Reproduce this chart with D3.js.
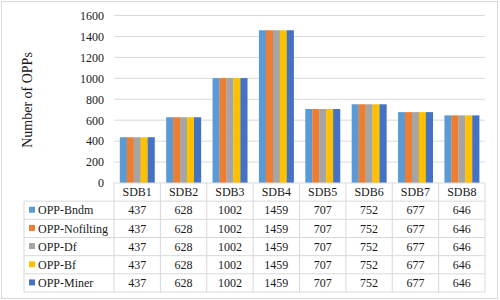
<!DOCTYPE html>
<html><head><meta charset="utf-8">
<script src="https://cdn.jsdelivr.net/npm/d3@7"></script>
<style>body{margin:0;background:#fff}svg{display:block}</style>
</head><body>
<svg id="c" width="500" height="300"></svg>
<script>
const categories = ["SDB1","SDB2","SDB3","SDB4","SDB5","SDB6","SDB7","SDB8"];
const seriesNames = ["OPP-Bndm","OPP-Nofilting","OPP-Df","OPP-Bf","OPP-Miner"];
const bndm      = [437,628,1002,1459,707,752,677,646];
const nofilting = [437,628,1002,1459,707,752,677,646];
const df        = [437,628,1002,1459,707,752,677,646];
const bf        = [437,628,1002,1459,707,752,677,646];
const miner     = [437,628,1002,1459,707,752,677,646];
const yTicks = [0,200,400,600,800,1000,1200,1400,1600];
const colors = ["#5B9BD5","#ED7D31","#A5A5A5","#FFC000","#4472C4"];
const series = [bndm,nofilting,df,bf,miner];

const FONT = "'Liberation Serif', 'Times New Roman', Tinos, 'DejaVu Serif', serif";
const TXT = "#1a1a1a";
const svg = d3.select("#c").attr("font-family", FONT);
const grid = "#d9d9d9";
svg.append("rect").attr("x",1.5).attr("y",1.5).attr("width",496).attr("height",297)
  .attr("fill","none").attr("stroke",grid);

const L=114, R=485, T=15.5, B=183;
const x0 = d3.scaleBand().domain(categories).range([L,R]).padding(0);
const cw = x0.bandwidth();
const x1 = d3.scaleBand().domain(seriesNames).range([cw*0.125, cw*0.875]).padding(0);
const y = d3.scaleLinear().domain([0,1600]).range([B,T]);

svg.append("g").selectAll("line").data(yTicks.filter(d=>d>0)).join("line")
  .attr("x1",L).attr("x2",R).attr("y1",d=>y(d)).attr("y2",d=>y(d))
  .attr("stroke",grid).attr("stroke-width",1);

const yAxis = d3.axisLeft(y).tickValues(yTicks).tickSize(0).tickPadding(0).tickFormat(d3.format("d"));
const ga = svg.append("g").attr("transform",`translate(104,0)`).call(yAxis);
ga.attr("font-family", FONT).attr("font-size", 12);
ga.select(".domain").remove();
ga.selectAll("text").attr("fill",TXT);

svg.append("text").attr("transform","translate(32,100) rotate(-90)")
  .attr("text-anchor","middle").attr("font-size",14).attr("fill",TXT).text("Number of OPPs");

const rows = categories.map((c,i)=>({c, vals: series.map((s,j)=>({name:seriesNames[j], v:s[i], col:colors[j]}))}));
svg.append("g").selectAll("g").data(rows).join("g")
  .attr("transform",d=>`translate(${x0(d.c)},0)`)
  .selectAll("rect").data(d=>d.vals).join("rect")
  .attr("x",d=>x1(d.name)).attr("width",x1.bandwidth()+0.2)
  .attr("y",d=>y(d.v)).attr("height",d=>B-y(d.v)).attr("fill",d=>d.col);

const rh = (292-B)/6;
const tl = 24;
const tg = svg.append("g").attr("font-size",12).attr("fill",TXT);
tg.append("line").attr("x1",L).attr("x2",R).attr("y1",B).attr("y2",B).attr("stroke",grid);
for(let k=1;k<=6;k++){
  tg.append("line").attr("x1",tl).attr("x2",R).attr("y1",B+k*rh).attr("y2",B+k*rh).attr("stroke",grid);
}
tg.append("line").attr("x1",tl).attr("x2",tl).attr("y1",B+rh).attr("y2",B+6*rh).attr("stroke",grid);
categories.forEach(c=>{
  tg.append("line").attr("x1",x0(c)).attr("x2",x0(c)).attr("y1",B).attr("y2",B+6*rh).attr("stroke",grid);
});
tg.append("line").attr("x1",R).attr("x2",R).attr("y1",B).attr("y2",B+6*rh).attr("stroke",grid);
tg.selectAll("text.h").data(categories).join("text").attr("class","h")
  .attr("x",d=>x0(d)+cw/2).attr("y",B+rh/2).attr("dy","0.35em")
  .attr("text-anchor","middle").text(d=>d);
seriesNames.forEach((n,j)=>{
  const yc = B+(j+1)*rh+rh/2;
  tg.append("rect").attr("x",29).attr("y",yc-3.5).attr("width",6).attr("height",6).attr("fill",colors[j]);
  tg.append("text").attr("x",38).attr("y",yc).attr("dy","0.35em").text(n);
  tg.selectAll("text.v"+j).data(series[j]).join("text").attr("class","v"+j)
    .attr("x",(d,i)=>x0(categories[i])+cw/2).attr("y",yc).attr("dy","0.35em")
    .attr("text-anchor","middle").text(d=>d);
});
</script>
</body></html>
